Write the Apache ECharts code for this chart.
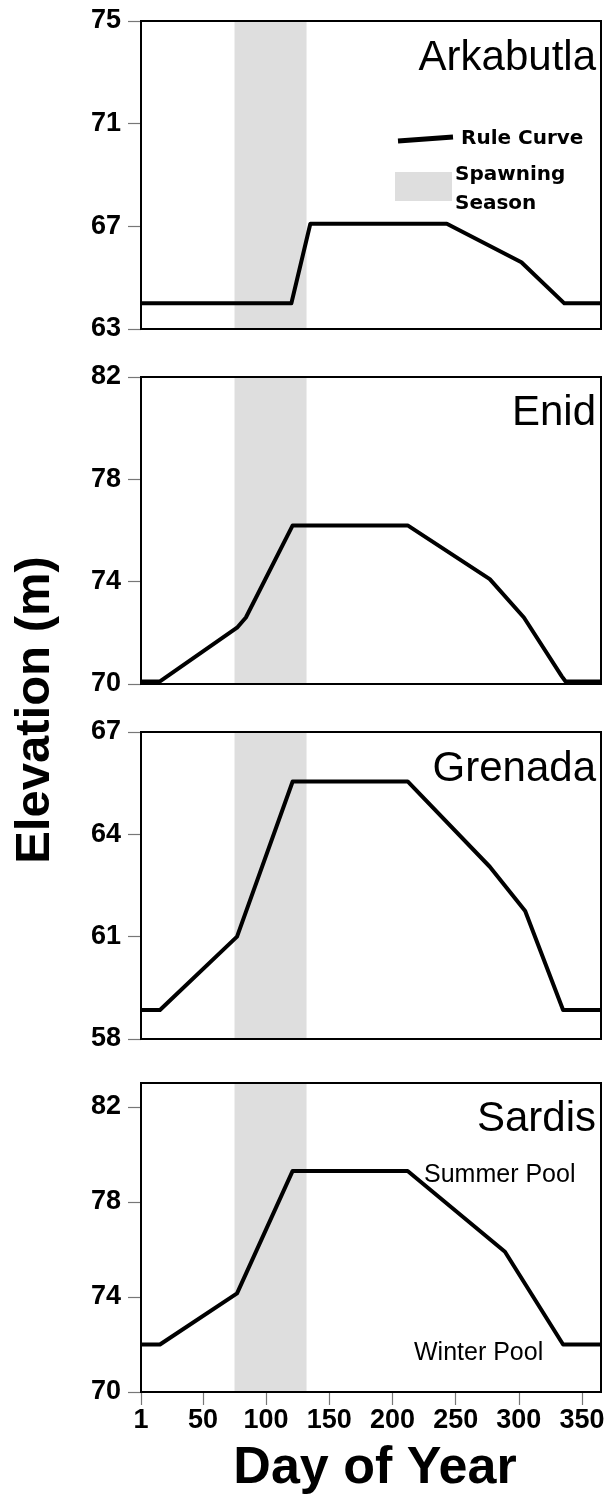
<!DOCTYPE html>
<html>
<head>
<meta charset="utf-8">
<script src="https://cdn.jsdelivr.net/npm/echarts@6/dist/echarts.min.js"></script>
<style>html,body{margin:0;padding:0;background:#fff}#c{width:608px;height:1500px}</style>
</head>
<body>
<div id="c"></div>
<script>
// ---- data ----
const reservoirs = ['Arkabutla', 'Enid', 'Grenada', 'Sardis'];

const arkabutlaDays = [1, 120, 135, 243, 302, 336, 365];
const arkabutlaElev = [64.0, 64.0, 67.1, 67.1, 65.6, 64.0, 64.0];

const enidDays = [1, 16, 77, 84, 121, 212, 277, 304, 334, 337, 365];
const enidElev = [70.1, 70.1, 72.2, 72.6, 76.2, 76.2, 74.1, 72.6, 70.3, 70.1, 70.1];

const grenadaDays = [1, 16, 77, 121, 212, 277, 305, 335, 365];
const grenadaElev = [58.85, 58.85, 61.0, 65.55, 65.55, 63.05, 61.75, 58.85, 58.85];

const sardisDays = [1, 16, 77, 121, 212, 289, 335, 365];
const sardisElev = [72.0, 72.0, 74.15, 79.3, 79.3, 75.9, 72.0, 72.0];

const spawningStart = 75;
const spawningEnd = 132;

const xTicks = [1, 50, 100, 150, 200, 250, 300, 350];
const yRanges = [[63, 75], [70, 82], [58, 67], [70, 83]];
const yTicks = [[63, 67, 71, 75], [70, 74, 78, 82], [58, 61, 64, 67], [70, 74, 78, 82]];

const allDays = [arkabutlaDays, enidDays, grenadaDays, sardisDays];
const allElev = [arkabutlaElev, enidElev, grenadaElev, sardisElev];

// ---- layout ----
const FONT = "'Liberation Sans', Arial, sans-serif";
const grids = [
  { left: 141, right: 7, top: 21, height: 308 },
  { left: 141, right: 7, top: 377, height: 307 },
  { left: 141, right: 7, top: 732, height: 307 },
  { left: 141, right: 7, top: 1083, height: 309 }
];
const titleY = [58, 413, 769, 1119];

const chart = echarts.init(document.getElementById('c'), null, { renderer: 'canvas' });

const option = {
  animation: false,
  backgroundColor: '#fff',
  grid: grids.map(g => Object.assign({ show: true, borderColor: '#000', borderWidth: 2, z: 5 }, g)),
  xAxis: grids.map((g, i) => ({
    type: 'value', gridIndex: i, min: 1, max: 365,
    axisLine: { show: false },
    splitLine: { show: false },
    axisTick: i === 3 ? { show: true, customValues: xTicks, length: 13, lineStyle: { color: '#777', width: 1.2 } } : { show: false },
    axisLabel: i === 3 ? { show: true, customValues: xTicks, margin: 15, color: '#000', fontFamily: FONT, fontWeight: 'bold', fontSize: 27 } : { show: false },
    name: i === 3 ? 'Day of Year' : '',
    nameLocation: 'middle',
    nameGap: 51,
    nameTextStyle: { fontFamily: FONT, fontWeight: 'bold', fontSize: 52, color: '#000', padding: [0, 0, 0, 8] }
  })),
  yAxis: grids.map((g, i) => ({
    type: 'value', gridIndex: i, min: yRanges[i][0], max: yRanges[i][1],
    axisLine: { show: false },
    splitLine: { show: false },
    axisTick: { show: true, customValues: yTicks[i], length: 13, lineStyle: { color: '#777', width: 1.2 } },
    axisLabel: { show: true, customValues: yTicks[i], margin: 20, color: '#000', fontFamily: FONT, fontWeight: 'bold', fontSize: 27 }
  })),
  series: reservoirs.map((name, i) => ({
    name: name,
    type: 'line',
    xAxisIndex: i, yAxisIndex: i,
    data: allDays[i].map((d, k) => [d, allElev[i][k]]),
    symbol: 'none',
    z: 3,
    lineStyle: { color: '#000', width: 4, join: 'round' },
    markArea: {
      silent: true,
      itemStyle: { color: '#dedede' },
      data: [[{ xAxis: spawningStart }, { xAxis: spawningEnd }]]
    }
  })),
  graphic: [
    ...reservoirs.map((name, i) => ({
      type: 'text', x: 596, y: titleY[i], z: 10,
      style: { text: name, fontFamily: FONT, fontSize: 42, fill: '#000', align: 'right', verticalAlign: 'middle' }
    })),
    { type: 'line', z: 10, shape: { x1: 398, y1: 141, x2: 453, y2: 137 }, style: { stroke: '#000', lineWidth: 5 } },
    { type: 'text', x: 461, y: 139, z: 10, style: { text: 'Rule Curve', fontFamily: "'DejaVu Sans', sans-serif", fontWeight: 'bold', fontSize: 20, fill: '#000', verticalAlign: 'middle' } },
    { type: 'rect', z: 10, shape: { x: 395, y: 172, width: 57, height: 29 }, style: { fill: '#dedede' } },
    { type: 'text', x: 455, y: 175, z: 10, style: { text: 'Spawning', fontFamily: "'DejaVu Sans', sans-serif", fontWeight: 'bold', fontSize: 20, fill: '#000', verticalAlign: 'middle' } },
    { type: 'text', x: 455, y: 204, z: 10, style: { text: 'Season', fontFamily: "'DejaVu Sans', sans-serif", fontWeight: 'bold', fontSize: 20, fill: '#000', verticalAlign: 'middle' } },
    { type: 'text', x: 424, y: 1175, z: 10, style: { text: 'Summer Pool', fontFamily: FONT, fontSize: 25, fill: '#000', verticalAlign: 'middle' } },
    { type: 'text', x: 414, y: 1353, z: 10, style: { text: 'Winter Pool', fontFamily: FONT, fontSize: 25, fill: '#000', verticalAlign: 'middle' } },
    { type: 'text', x: 35, y: 710, rotation: Math.PI / 2, z: 10, style: { text: 'Elevation (m)', fontFamily: FONT, fontWeight: 'bold', fontSize: 49, fill: '#000', align: 'center', verticalAlign: 'middle' } }
  ]
};
chart.setOption(option);
</script>
</body>
</html>
